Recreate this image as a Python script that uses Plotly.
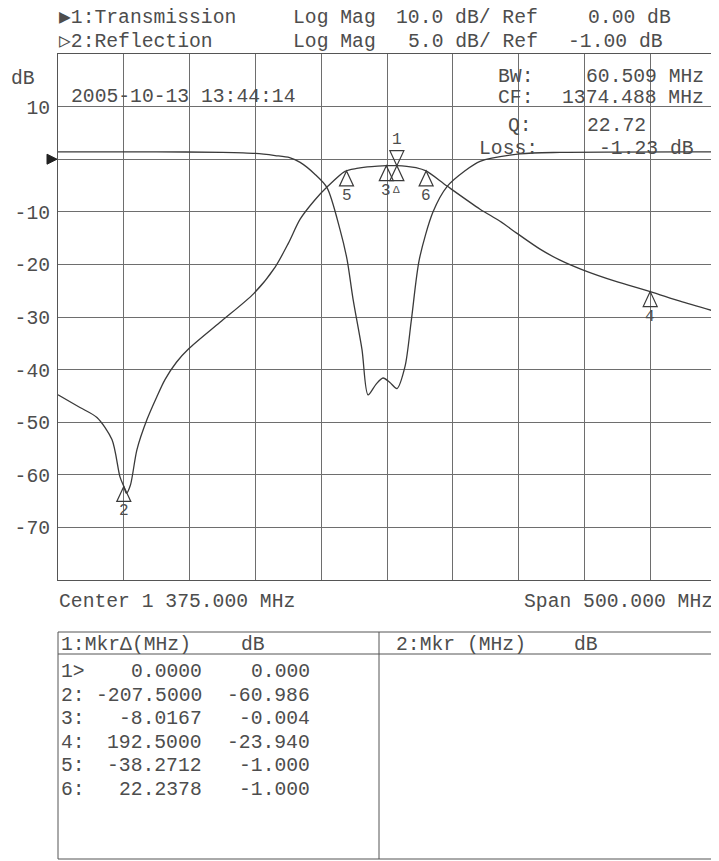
import plotly.graph_objects as go

# ---------------- data ----------------
center_mhz = 1375.0
span_mhz = 500.0

# Channel 1: Transmission, Log Mag 10 dB/div, Ref 0.00 dB
trans_freq = [1125.0, 1141.7, 1154.6, 1166.0, 1172.1, 1175.0, 1177.0, 1180.0, 1185.0, 1192.6,
              1200.2, 1206.3, 1215.0, 1224.5, 1248.1, 1273.9, 1290.0, 1300.0, 1309.0, 1320.0,
              1329.4, 1343.1, 1352.0, 1360.0, 1368.0, 1374.5, 1382.5, 1390.0, 1397.0, 1404.7,
              1420.6, 1445.7, 1460.9, 1473.8, 1491.3, 1506.5, 1523.2, 1548.3, 1575.0, 1597.7,
              1625.0]
trans_db = [-44.8, -47.2, -49.1, -53.3, -60.4, -62.2, -63.5, -62.0, -55.2, -49.5,
            -45.1, -41.9, -38.6, -36.0, -31.0, -25.5, -20.5, -16.0, -11.4, -7.8,
            -5.3, -2.3, -1.75, -1.45, -1.3, -1.234, -1.23, -1.35, -1.6, -2.23,
            -5.1, -9.5, -11.8, -14.1, -17.1, -19.2, -21.0, -23.2, -25.17, -27.0,
            -29.0]

# Channel 2: Reflection, Log Mag 5 dB/div, Ref -1.00 dB
refl_freq = [1125.0, 1200.0, 1250.0, 1275.0, 1290.0, 1301.0, 1309.0, 1320.0, 1329.4, 1339.3,
             1344.6, 1349.2, 1356.0, 1360.6, 1366.6, 1372.0, 1377.0, 1382.6, 1388.7, 1393.6,
             1399.6, 1410.0, 1420.6, 1434.3, 1445.7, 1476.0, 1506.5, 1625.0]
refl_db = [-0.30, -0.30, -0.35, -0.45, -0.65, -0.85, -1.3, -2.4, -3.7, -7.7,
           -10.5, -14.3, -19.1, -23.4, -22.4, -21.8, -22.2, -22.8, -20.7, -16.2,
           -10.5, -6.0, -3.6, -2.1, -1.2, -0.5, -0.35, -0.30]

ch1_scale, ch1_ref = 10.0, 0.0
ch2_scale, ch2_ref = 5.0, -1.0

# Markers (delta relative to marker 1)
mkr_ids = ["1", "2", "3", "4", "5", "6"]
mkr_df = [0.0, -207.5, -8.0167, 192.5, -38.2712, 22.2378]
mkr_ddb = [0.0, -60.986, -0.004, -23.940, -1.000, -1.000]
ref_f = 1382.5
ref_db = -1.23

ytick_vals = list(range(-80, 21, 10))
ytick_text = ["", "-70", "-60", "-50", "-40", "-30", "-20", "-10", "", "10", ""]

bw_text, cf_text, q_text, loss_text = "60.509 MHz", "1374.488 MHz", "22.72", "-1.23 dB"
timestamp = "2005-10-13 13:44:14"

# ---------------- styling / layout ----------------
PAGE_OFF = 8                      # default body margin of the html page
W, H = 719 - PAGE_OFF, 861 - PAGE_OFF
PL, PR, PT, PB = 58, 716, 54, 580  # plot frame in window pixels
L, T = PL - PAGE_OFF, PT - PAGE_OFF
R, B = W - (PR - PAGE_OFF), H - (PB - PAGE_OFF)
PW, PH = PR - PL, PB - PT
FONT = "Liberation Mono, DejaVu Sans Mono, monospace"
FS = 19.7
TXT = "#4d4d4d"
TRACE = "#3a3a3a"
GRID = "#6e6e6e"


def px(x):
    return (x - PL) / PW


def py(y):
    return (PB - y) / PH


annotations = []


def txt(s, x, y, anchor="left", size=FS, color=TXT):
    annotations.append(dict(text=s, x=px(x), y=py(y), xref="paper", yref="paper",
                            xanchor=anchor, yanchor="middle", showarrow=False,
                            font=dict(family=FONT, size=size, color=color), borderpad=0))


fig = go.Figure()
fig.add_trace(go.Scatter(x=trans_freq, y=trans_db, mode="lines", yaxis="y",
                         line=dict(color=TRACE, width=1.3, shape="spline", smoothing=0.8),
                         hoverinfo="skip", showlegend=False))
fig.add_trace(go.Scatter(x=refl_freq, y=refl_db, mode="lines", yaxis="y2",
                         line=dict(color=TRACE, width=1.3, shape="spline", smoothing=0.8),
                         hoverinfo="skip", showlegend=False))

y1_lo, y1_hi = ch1_ref - 8 * ch1_scale, ch1_ref + 2 * ch1_scale
y2_lo, y2_hi = ch2_ref - 8 * ch2_scale, ch2_ref + 2 * ch2_scale

shapes = []
# markers
for i, mid in enumerate(mkr_ids):
    f = ref_f + mkr_df[i]
    d = ref_db + mkr_ddb[i]
    base = dict(type="path", xref="x", yref="y", xsizemode="pixel", ysizemode="pixel",
                xanchor=f, yanchor=d, line=dict(color=TRACE, width=1.2),
                fillcolor="rgba(0,0,0,0)")
    shapes.append(dict(base, path="M0,0 L-7,-15 L7,-15 Z"))
    if i == 0:
        shapes.append(dict(base, path="M0,0 L-7,15 L7,15 Z"))
        annotations.append(dict(text=mid, x=f, y=d, xref="x", yref="y", yshift=26,
                                showarrow=False, font=dict(family=FONT, size=16, color=TXT)))
        annotations.append(dict(text="Δ", x=f, y=d, xref="x", yref="y", yshift=-24,
                                showarrow=False, font=dict(family=FONT, size=11, color=TXT)))
    else:
        annotations.append(dict(text=mid, x=f, y=d, xref="x", yref="y", yshift=-25,
                                showarrow=False, font=dict(family=FONT, size=16, color=TXT)))

# channel-1 reference arrow
shapes.append(dict(type="path", xref="paper", yref="y", xsizemode="pixel", ysizemode="pixel",
                   xanchor=0, yanchor=ch1_ref, path="M-11,5 L-1,0 L-11,-5 Z",
                   fillcolor="#222", line=dict(color="#222", width=1)))

# header texts
txt("▶1:Transmission", 58, 18)
txt("Log Mag", 292, 18)
txt("10.0 dB/ Ref", 395, 18)
txt("0.00 dB", 587, 18)
txt("▷2:Reflection", 58, 42)
txt("Log Mag", 292, 42)
txt("5.0 dB/ Ref", 407, 42)
txt("-1.00 dB", 567, 42)
txt("dB", 10, 79)
txt(timestamp, 70, 97)
txt("BW:", 497, 77)
txt(bw_text, 705, 77, anchor="right")
txt("CF:", 497, 98)
txt(cf_text, 705, 98, anchor="right")
txt("Q:", 507, 126)
txt(q_text, 586, 126)
txt("Loss:", 478, 149)
txt(loss_text, 598, 149)
txt("Center " + f"{center_mhz:,.3f}".replace(",", " ") + " MHz", 58, 602)
txt(f"Span {span_mhz:.3f} MHz", 714, 602, anchor="right")

# marker table
tb_top, tb_bot, tb_l, tb_r, tb_mid, tb_hdr = 632, 859, 58, 714, 379, 654
line_style = dict(color="#555", width=1)
shapes.append(dict(type="rect", xref="paper", yref="paper", x0=px(tb_l), x1=px(tb_r),
                   y0=py(tb_bot), y1=py(tb_top), line=line_style))
shapes.append(dict(type="line", xref="paper", yref="paper", x0=px(tb_mid), x1=px(tb_mid),
                   y0=py(tb_bot), y1=py(tb_top), line=line_style))
shapes.append(dict(type="line", xref="paper", yref="paper", x0=px(tb_l), x1=px(tb_r),
                   y0=py(tb_hdr), y1=py(tb_hdr), line=line_style))
txt("1:MkrΔ(MHz)", 60, 645)
txt("dB", 240, 645)
txt("2:Mkr (MHz)", 395, 645)
txt("dB", 573, 645)
row_y0, row_dy = 672, 23.6
for i, mid in enumerate(mkr_ids):
    y = row_y0 + i * row_dy
    txt(mid + (">" if i == 0 else ":"), 60, y)
    txt(f"{mkr_df[i]:.4f}", 203, y, anchor="right")
    txt(f"{mkr_ddb[i]:.3f}", 311, y, anchor="right")

fig.update_layout(
    width=W, height=H, autosize=False,
    margin=dict(l=L, r=R, t=T, b=B, pad=0),
    paper_bgcolor="white", plot_bgcolor="white",
    xaxis=dict(range=[center_mhz - span_mhz / 2, center_mhz + span_mhz / 2],
               tick0=center_mhz - span_mhz / 2, dtick=span_mhz / 10,
               showgrid=True, gridcolor=GRID, gridwidth=1, showticklabels=False,
               ticks="", zeroline=False, showline=True, mirror=True, automargin=False,
               linecolor="#555", linewidth=1, fixedrange=True),
    yaxis=dict(range=[y1_lo, y1_hi], tickmode="array", tickvals=ytick_vals,
               ticktext=ytick_text, showgrid=True, gridcolor=GRID, gridwidth=1,
               ticks="", zeroline=False, showline=True, mirror=True, automargin=False,
               linecolor="#555", linewidth=1, ticklabelstandoff=3,
               tickfont=dict(family=FONT, size=FS, color=TXT), fixedrange=True),
    yaxis2=dict(range=[y2_lo, y2_hi], overlaying="y", visible=False, fixedrange=True,
                automargin=False),
    shapes=shapes,
    annotations=annotations,
    showlegend=False,
)

fig.write_html("out.html")
